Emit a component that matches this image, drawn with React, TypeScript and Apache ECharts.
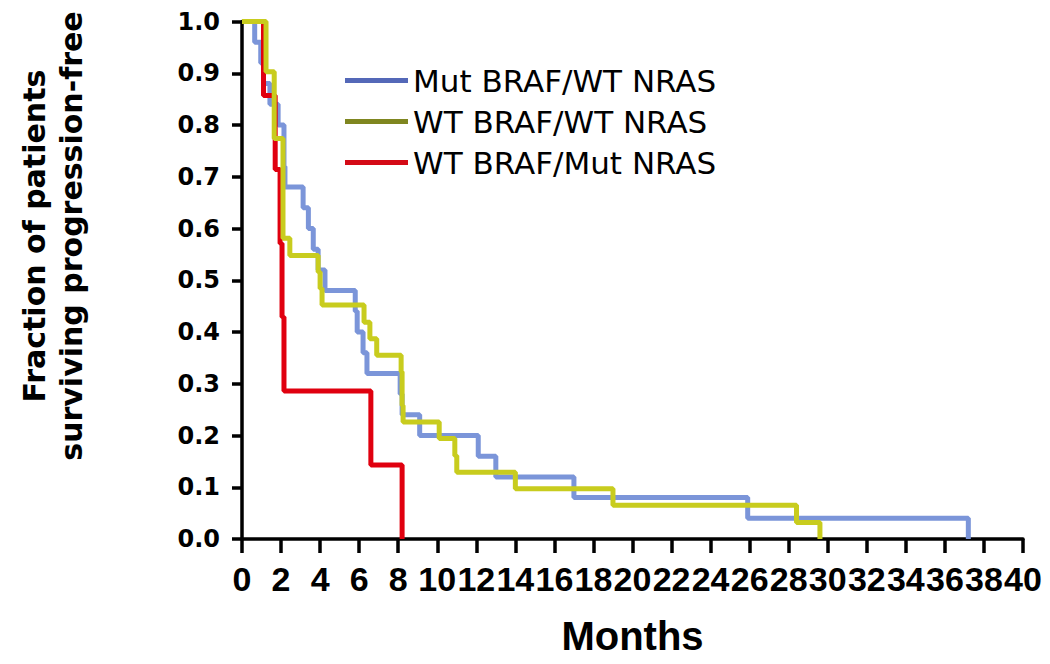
import React, { useEffect, useRef } from "react";
import * as echarts from "echarts";

// Kaplan-Meier style step data (months, fraction progression-free)
const seriesNames = ["Mut BRAF/WT NRAS", "WT BRAF/WT NRAS", "WT BRAF/Mut NRAS"];

const mutBrafTimes = [0, 0.65, 0.96, 1.1, 1.43, 1.85, 2.15, 2.15, 2.2, 3.13, 3.4, 3.65, 3.9, 4.25, 5.8, 5.9, 6.2, 6.4, 8.1, 8.2, 9.1, 12.1, 13.0, 17.0, 25.9, 37.2];
const mutBrafSurv = [1, 0.96, 0.92, 0.88, 0.84, 0.8, 0.76, 0.72, 0.68, 0.64, 0.6, 0.56, 0.52, 0.48, 0.44, 0.4, 0.36, 0.32, 0.28, 0.24, 0.2, 0.16, 0.12, 0.08, 0.04, 0];

const wtWtTimes = [0, 1.23, 1.65, 2.1, 2.45, 3.9, 4.0, 4.1, 6.25, 6.55, 6.9, 8.15, 8.2, 8.25, 10.1, 10.9, 11.0, 14.0, 19.0, 28.4, 29.6];
const wtWtSurv = [1, 0.903, 0.774, 0.581, 0.548, 0.516, 0.484, 0.452, 0.419, 0.387, 0.355, 0.323, 0.258, 0.226, 0.194, 0.161, 0.129, 0.097, 0.065, 0.032, 0];

const mutNrasTimes = [0, 1.1, 1.7, 1.95, 2.05, 2.15, 6.6, 8.2];
const mutNrasSurv = [1, 0.857, 0.714, 0.571, 0.429, 0.286, 0.143, 0];

const lineColors = ["#7b95d9", "#c8cc1e", "#e0000f"];
const legendColors = ["#5468b8", "#7f8620", "#d40a16"];

const yTitle = "Fraction of patients\nsurviving progression-free";
const xTitle = "Months";

function zip(t: number[], s: number[]) {
  return t.map((v, i) => [v, s[i]]);
}

export default function App() {
  const ref = useRef<HTMLDivElement>(null);
  useEffect(() => {
    if (!ref.current) return;
    const chart = echarts.init(ref.current, undefined, { renderer: "svg" });
    const datasets = [
      zip(mutBrafTimes, mutBrafSurv),
      zip(wtWtTimes, wtWtSurv),
      zip(mutNrasTimes, mutNrasSurv),
    ];
    const drawOrder = [0, 2, 1];
    chart.setOption({
      animation: false,
      backgroundColor: "#ffffff",
      grid: { left: 242, right: 27, top: 21.5, bottom: 125, containLabel: false },
      legend: {
        orient: "vertical",
        left: 340,
        top: 60,
        itemWidth: 63,
        itemHeight: 5,
        itemGap: 10,
        textStyle: { fontFamily: "DejaVu Sans", fontSize: 31, color: "#000", lineHeight: 31 },
        data: seriesNames.map((n, i) => ({ name: n, icon: "rect", itemStyle: { color: legendColors[i] } })),
      },
      xAxis: {
        type: "value",
        min: 0,
        max: 40,
        interval: 2,
        splitLine: { show: false },
        axisLine: { show: true, onZero: false, lineStyle: { color: "#000", width: 3.5 } },
        axisTick: { show: true, inside: false, length: 14, lineStyle: { color: "#000", width: 3.5 } },
        axisLabel: {
          fontFamily: "Liberation Sans",
          fontWeight: "bold",
          fontSize: 34,
          color: "#000",
          margin: 23,
          showMaxLabel: true,
          showMinLabel: true,
        },
        name: xTitle,
        nameLocation: "middle",
        nameGap: 77,
        nameTextStyle: { fontFamily: "Liberation Sans", fontWeight: "bold", fontSize: 40, color: "#000" },
      },
      yAxis: {
        type: "value",
        min: 0,
        max: 1,
        interval: 0.1,
        splitLine: { show: false },
        axisLine: { show: true, onZero: false, lineStyle: { color: "#000", width: 3.5 } },
        axisTick: { show: true, inside: false, length: 10, lineStyle: { color: "#000", width: 3.5 } },
        axisLabel: {
          fontFamily: "DejaVu Sans",
          fontWeight: "bold",
          fontSize: 24,
          color: "#000",
          margin: 22,
          formatter: (v: number) => v.toFixed(1),
        },
      },
      graphic: [
        {
          type: "text",
          x: 53,
          y: 236,
          rotation: Math.PI / 2,
          style: {
            text: yTitle,
            font: "bold 30px 'DejaVu Sans'",
            fill: "#000",
            textAlign: "center",
            textVerticalAlign: "middle",
            lineHeight: 37,
          },
        },
      ],
      series: drawOrder.map((i) => ({
        name: seriesNames[i],
        type: "line",
        step: "end",
        symbol: "none",
        showSymbol: false,
        data: datasets[i],
        color: lineColors[i],
        lineStyle: { color: lineColors[i], width: 5 },
      })),
    });
    return () => chart.dispose();
  }, []);
  return <div ref={ref} style={{ position: "absolute", left: 0, top: 0, width: 1050, height: 664 }} />;
}
